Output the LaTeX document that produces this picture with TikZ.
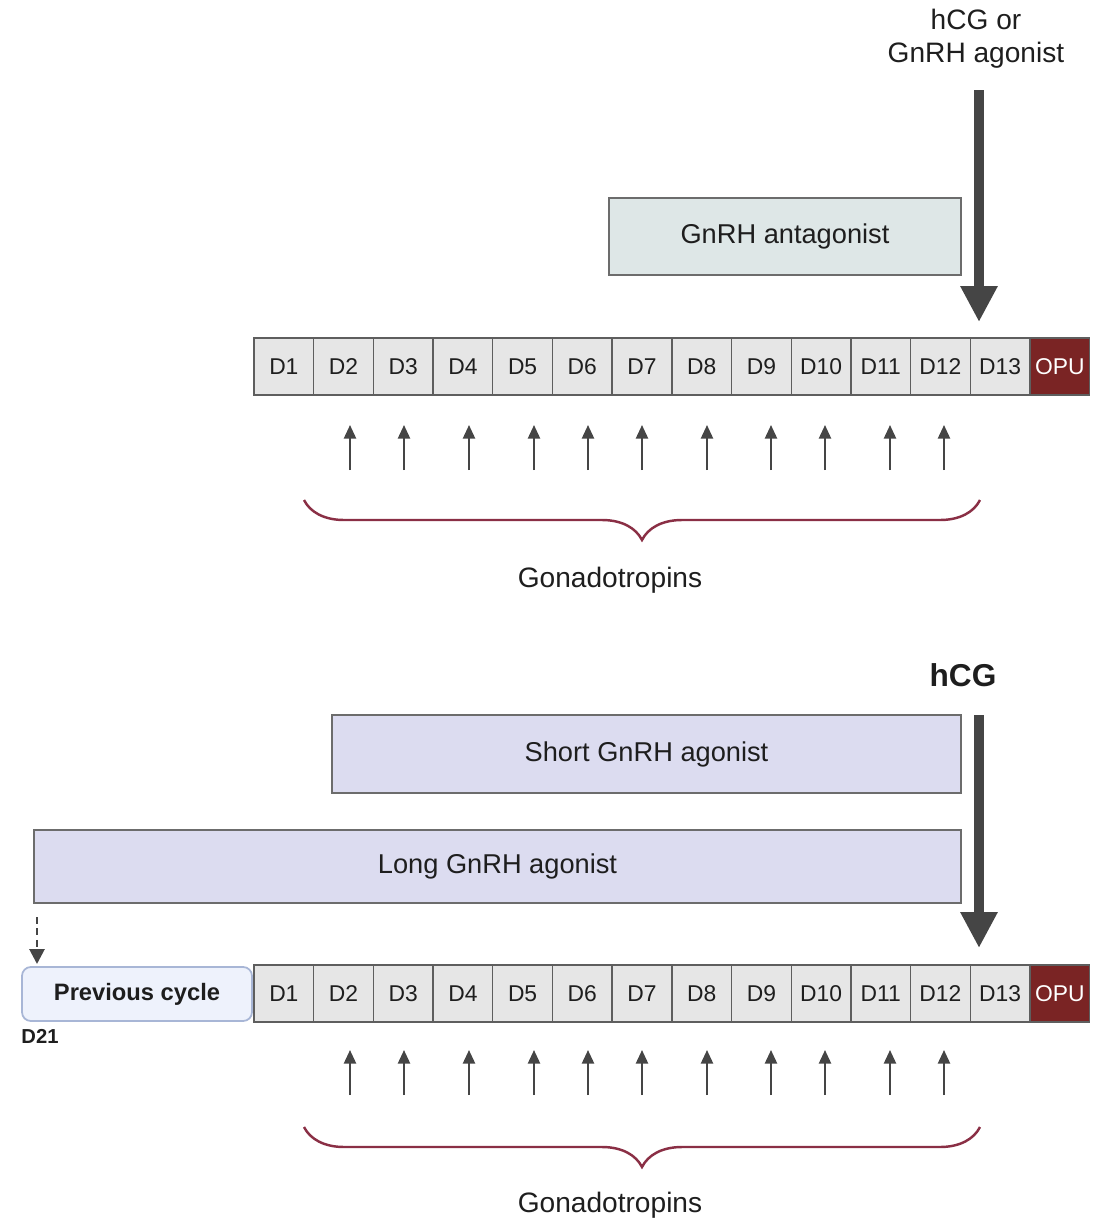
\documentclass[tikz,border=0pt]{standalone}
\usepackage{fontspec}
\setmainfont{Liberation Sans}
\usetikzlibrary{positioning,arrows.meta,decorations.pathreplacing,calc}

\definecolor{cellgray}{HTML}{E6E6E6}
\definecolor{celledge}{HTML}{5E5E5E}
\definecolor{opured}{HTML}{7A2424}
\definecolor{antagfill}{HTML}{DEE7E7}
\definecolor{agonfill}{HTML}{DCDCF0}
\definecolor{prevfill}{HTML}{EEF2FC}
\definecolor{prevedge}{HTML}{A8B6D6}
\definecolor{bracered}{HTML}{8A2F45}
\definecolor{arrowgray}{HTML}{454545}
\definecolor{textdark}{HTML}{1E1E1E}

\begin{document}
\begin{tikzpicture}[
    x=0.02cm, y=-0.02cm,
    >=Stealth,
    day/.style={draw=celledge, fill=cellgray, line width=0.8pt, outer sep=0pt, minimum width=1.194cm, minimum height=1.14cm, inner sep=0pt, text=textdark, font=\fontsize{13pt}{15pt}\selectfont},
    opu/.style={day, fill=opured, text=white},
    drug/.style={draw=gray!85!black, line width=0.7pt, inner sep=0pt, text=textdark, font=\fontsize{15.5pt}{18pt}\selectfont},
    prevbox/.style={draw=prevedge, fill=prevfill, line width=1pt, rounded corners=5pt, minimum width=4.6cm, minimum height=1.08cm, text=textdark, font=\bfseries\fontsize{13.5pt}{16pt}\selectfont},
    label/.style={align=center, text=textdark, font=\fontsize{16pt}{18.7pt}\selectfont},
    gonarrow/.style={draw=arrowgray, line width=1.2pt, -{Triangle[length=0.27cm, width=0.24cm]}},
    bigarrow/.style={draw=arrowgray, line width=0.2cm, -{Triangle[length=0.72cm, width=0.7cm]}},
    gonbrace/.style={draw=bracered, line width=1.4pt, decorate, decoration={brace, mirror, amplitude=0.8cm}}
]
\useasboundingbox (0,0) rectangle (1107,1225);

% ---------- antagonist protocol ----------
\node[label] (trig) at (976,39) {hCG or\\GnRH agonist};
\node[drug, fill=antagfill, minimum width=7.04cm, minimum height=1.54cm] (antag) at (785,236.5) {GnRH antagonist};

% days
\node[day] (ta1) at (283.85,366.5) {D1};
\foreach \i [remember=\i as \j (initially 1)] in {2,...,13}
    \node[day, right=0pt of ta\j] (ta\i) {D\i};
\node[opu, right=0pt of ta13] (taopu) {OPU};

% trigger
\coordinate (trigA) at (979,90);
\coordinate (trigB) at (979,322);
\draw[bigarrow] (trigA) -- (trigB);

% gonadotropin injections
\foreach \x in {350,404,469,534,588,642,707,771,825,890,944}
    \draw[gonarrow] (\x,470) -- (\x,425);

\coordinate (braceA) at (304,500);
\coordinate (braceB) at (980,500);
\draw[gonbrace] (braceA) -- (braceB);
\node[label] (gonad1) at (610,580) {Gonadotropins};

% ---------- agonist protocols ----------
\node[label, font=\bfseries\fontsize{18pt}{21pt}\selectfont] (hcg) at (963,675) {hCG};
\node[drug, fill=agonfill, minimum width=12.58cm, minimum height=1.56cm] (short) at (646.5,754) {Short GnRH agonist};
\node[drug, fill=agonfill, minimum width=18.54cm, minimum height=1.46cm] (long) at (497.5,866.5) {Long GnRH agonist};

% previous cycle + days
\node[prevbox] (prev) at (137,994) {Previous cycle};
\node[text=textdark, font=\bfseries\fontsize{11.5pt}{14pt}\selectfont] (d21) at (40,1036) {D21};
\coordinate (dashA) at (37,917);
\coordinate (dashB) at (37,964);
\draw[draw=arrowgray, line width=1.6pt, dash pattern=on 4pt off 2.5pt, -{Triangle[length=0.3cm, width=0.3cm]}] (dashA) -- (dashB);

\node[day] (ba1) at (283.85,993.5) {D1};
\foreach \i [remember=\i as \j (initially 1)] in {2,...,13}
    \node[day, right=0pt of ba\j] (ba\i) {D\i};
\node[opu, right=0pt of ba13] (baopu) {OPU};

% trigger
\coordinate (hcgA) at (979,715);
\coordinate (hcgB) at (979,948);
\draw[bigarrow] (hcgA) -- (hcgB);

% gonadotropin injections
\foreach \x in {350,404,469,534,588,642,707,771,825,890,944}
    \draw[gonarrow] (\x,1095) -- (\x,1050);

\coordinate (braceC) at (304,1127);
\coordinate (braceD) at (980,1127);
\draw[gonbrace] (braceC) -- (braceD);
\node[label] (gonad2) at (610,1205) {Gonadotropins};

\end{tikzpicture}
\end{document}
